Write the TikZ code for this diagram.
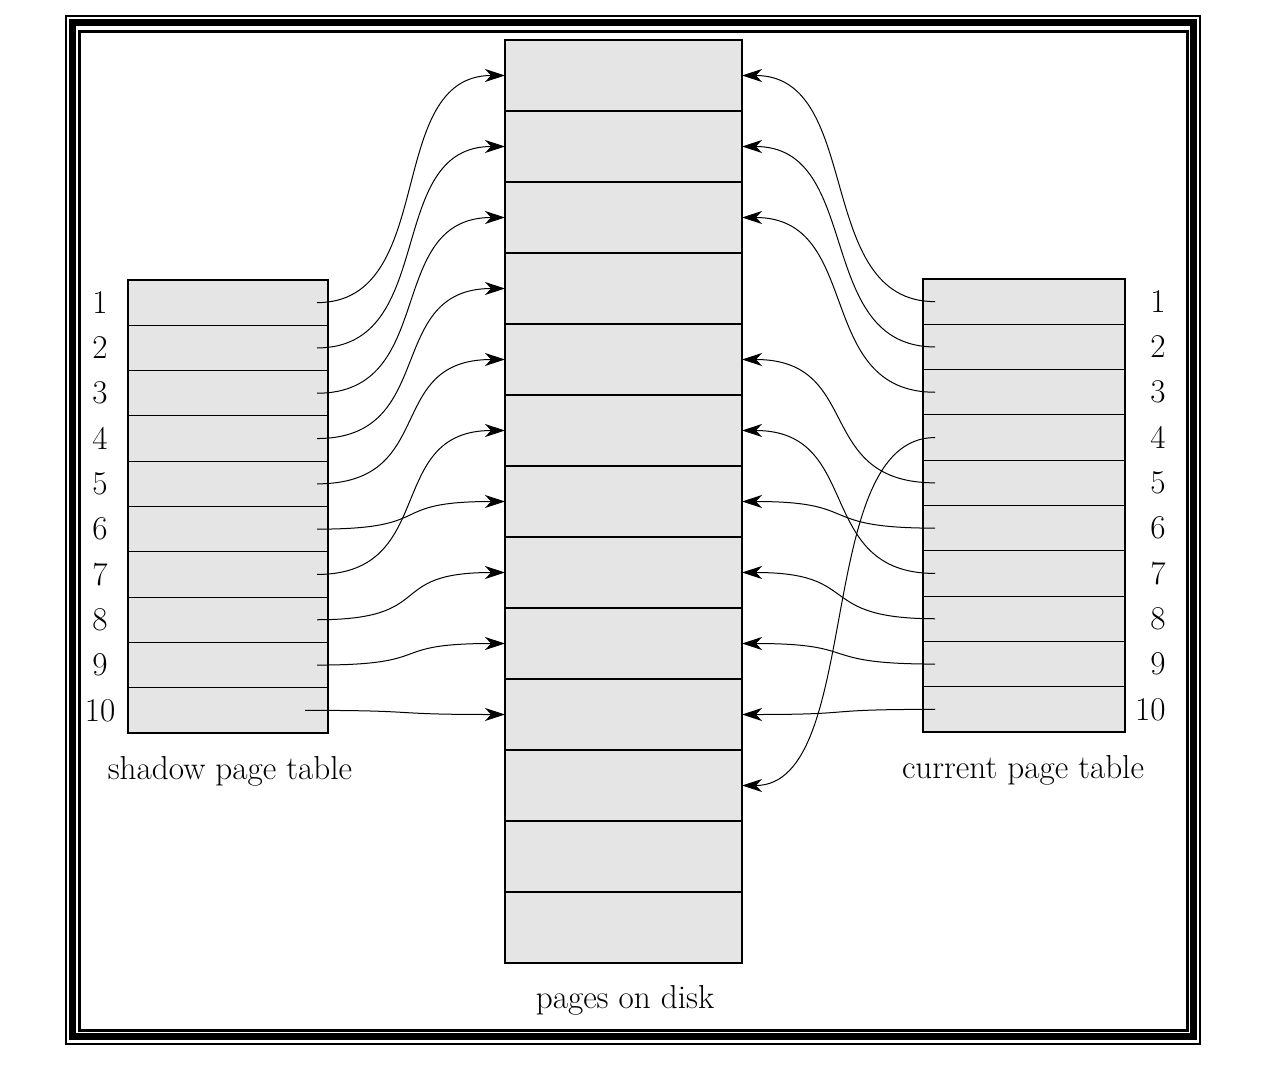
\documentclass[tikz,border=0pt]{standalone}
\usepackage{xcolor}
\usetikzlibrary{arrows.meta}
\usetikzlibrary{positioning, math}

\begin{document}
\begin{tikzpicture}[x=0.5pt,y=-0.5pt,
  font=\fontsize{16.6}{19}\selectfont,
  slot/.style={draw, line width=0.55pt, fill=gray!20, inner sep=0, outer sep=0,
    minimum width=100pt, minimum height=22.65pt},
  page/.style={draw, line width=0.55pt, fill=gray!20, inner sep=0, outer sep=0,
    minimum width=118.5pt, minimum height=35.5pt},
  link/.style={-{Stealth[length=10pt,width=6.5pt,inset=3pt]}, line width=0.5pt}]
\tikzmath{
\rowh=45.3;
\pageh=71;
\bend=122;
}
\useasboundingbox (0,0) rectangle (1261,1075);

% frame
\draw[line width=1pt] (66,16) rectangle (1200,1044);
\draw[line width=3.2pt] (72.5,22.5) rectangle (1193.5,1036.5);
\draw[line width=1.5pt] (79.5,31.5) rectangle (1187,1030);

% pages on disk
\foreach \j in {1,...,13}{
\node[page] (p\j) at (623.5,{40+\pageh*(\j-0.5)}) {};
}
\node (disk) at (625,1000) {pages on disk};

% the two page tables
\foreach \i in {1,...,10}{
\node[slot] (s\i) at (228,{280+\rowh*(\i-0.5)}) {};
\node[slot, minimum width=101pt] (c\i) at (1024,{279+\rowh*(\i-0.5)}) {};
\node (sn\i) at (100,{280+\rowh*(\i-0.5)}) {\i};
\node[anchor=east, inner sep=0] (cn\i) at (1166,{279+\rowh*(\i-0.5)}) {\i};
}
\node (shadow) at (230,771) {shadow page table};
\node (current) at (1023,770) {current page table};

% shadow table -> disk
\foreach \a/\b/\off in {1/1/5.5,2/2/5.5,3/3/5.5,4/4/5.5,5/5/5.5,6/7/5.5,7/6/5.5,8/8/5.5,9/9/5.5,10/10/11.5}{
\coordinate (sa\a) at ([xshift=-\off pt]s\a.east);
\draw[link] (sa\a) .. controls +(\bend,0) and +(-\bend,0) .. (p\b.west);
}

% current table -> disk
\foreach \a/\b in {1/1,2/2,3/3,4/11,5/5,6/7,7/6,8/8,9/9,10/10}{
\coordinate (ca\a) at ([xshift=6pt]c\a.west);
\draw[link] (ca\a) .. controls +(-\bend,0) and +(\bend,0) .. (p\b.east);
}

\end{tikzpicture}
\end{document}
